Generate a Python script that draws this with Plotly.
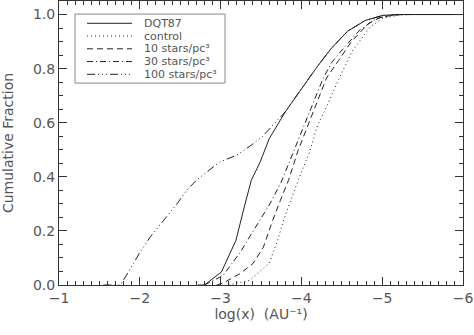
import plotly.graph_objects as go

# ---- data ----
dqt87_x = [-2.72, -2.80, -3.01, -3.19, -3.29, -3.38, -3.49, -3.60, -3.80, -4.01, -4.19, -4.37, -4.57, -4.79, -5.01, -5.25, -6.0]
dqt87_y = [0.0, 0.0, 0.048, 0.165, 0.285, 0.387, 0.455, 0.54, 0.64, 0.73, 0.805, 0.875, 0.938, 0.978, 0.997, 1.0, 1.0]

control_x = [-3.10, -3.36, -3.60, -3.70, -3.78, -3.88, -3.96, -4.10, -4.20, -4.31, -4.46, -4.63, -4.85, -5.00, -5.20, -5.40, -6.0]
control_y = [0.0, 0.017, 0.08, 0.16, 0.24, 0.325, 0.387, 0.49, 0.59, 0.658, 0.76, 0.865, 0.954, 0.985, 0.998, 1.0, 1.0]

s10_x = [-2.95, -3.03, -3.24, -3.40, -3.53, -3.63, -3.74, -3.84, -3.96, -4.15, -4.31, -4.46, -4.62, -4.83, -4.98, -5.20, -6.0]
s10_y = [0.0, 0.007, 0.042, 0.079, 0.14, 0.227, 0.313, 0.387, 0.498, 0.646, 0.765, 0.83, 0.90, 0.967, 0.99, 1.0, 1.0]

s30_x = [-2.80, -3.03, -3.24, -3.45, -3.61, -3.75, -3.90, -4.11, -4.27, -4.38, -4.52, -4.73, -4.93, -5.15, -6.0]
s30_y = [0.0, 0.035, 0.12, 0.22, 0.30, 0.38, 0.49, 0.646, 0.765, 0.825, 0.875, 0.945, 0.985, 1.0, 1.0]

s100_x = [-1.55, -1.76, -1.86, -2.00, -2.13, -2.33, -2.46, -2.58, -2.70, -2.83, -2.99, -3.20, -3.38, -3.52, -3.65, -3.80, -4.01, -4.19, -4.37, -4.57, -4.79, -5.01, -5.25, -6.0]
s100_y = [0.0, 0.0, 0.048, 0.12, 0.178, 0.251, 0.30, 0.35, 0.387, 0.418, 0.455, 0.48, 0.517, 0.55, 0.59, 0.64, 0.73, 0.805, 0.875, 0.938, 0.978, 0.997, 1.0, 1.0]

names = ["DQT87", "control", "10 stars/pc³", "30 stars/pc³", "100 stars/pc³"]
xs = [dqt87_x, control_x, s10_x, s30_x, s100_x]
ys = [dqt87_y, control_y, s10_y, s30_y, s100_y]
dashes = ["solid", "1px,3px", "6px,4px", "6px,3px,1px,3px", "8px,3px,1px,3px,1px,3px,1px,3px"]

FONT = "DejaVu Sans"
TXT = "#555555"
LINE = "#222222"

fig = go.Figure()
for n, x, y, d in zip(names, xs, ys, dashes):
    fig.add_trace(go.Scatter(x=x, y=y, mode="lines", name=n, showlegend=False,
                             line=dict(color=LINE, width=1, dash=d)))

# ---- compact boxed legend (paper coordinates) ----
fig.add_shape(type="rect", xref="paper", yref="paper",
              x0=0.0396, x1=0.411, y0=0.711, y1=0.954,
              line=dict(color="#888888", width=1), fillcolor="white", layer="below")
row_top, row_step = 0.9215, 0.0449
for i, (n, d) in enumerate(zip(names, dashes)):
    yy = row_top - i * row_step
    fig.add_shape(type="line", xref="paper", yref="paper",
                  x0=0.0693, x1=0.1807, y0=yy, y1=yy,
                  line=dict(color=LINE, width=1, dash=d))
    fig.add_annotation(xref="paper", yref="paper", x=0.2054, y=yy,
                       xanchor="left", yanchor="middle", showarrow=False,
                       text=n, font=dict(family=FONT, size=11, color=TXT))

axis_common = dict(
    showline=True, linecolor="#333333", linewidth=1, mirror="allticks",
    ticks="inside", ticklen=8, tickcolor="#333333", tickwidth=1,
    showgrid=False, zeroline=False, automargin=False,
    tickfont=dict(family=FONT, size=14, color=TXT),
)

fig.update_xaxes(range=[-1, -6], tickmode="linear", tick0=-1, dtick=1,
                 minor=dict(dtick=0.1, ticks="inside", ticklen=4, tickcolor="#333333", showgrid=False),
                 title=dict(text="log(x)  (AU⁻¹)", font=dict(family=FONT, size=14, color=TXT), standoff=4),
                 **axis_common)
fig.update_yaxes(range=[0, 1.05], tickmode="linear", tick0=0, dtick=0.2, tickformat=".1f",
                 minor=dict(dtick=0.05, ticks="inside", ticklen=4, tickcolor="#333333", showgrid=False),
                 title=dict(text="Cumulative Fraction", font=dict(family=FONT, size=14, color=TXT), standoff=20),
                 **axis_common)

fig.update_layout(
    width=474, height=335,
    margin=dict(l=59, r=11, t=1, b=50),
    plot_bgcolor="white", paper_bgcolor="white",
    showlegend=False,
)

fig.write_html("out.html", config={"displayModeBar": False},
               post_script="document.body.style.margin='0';")
